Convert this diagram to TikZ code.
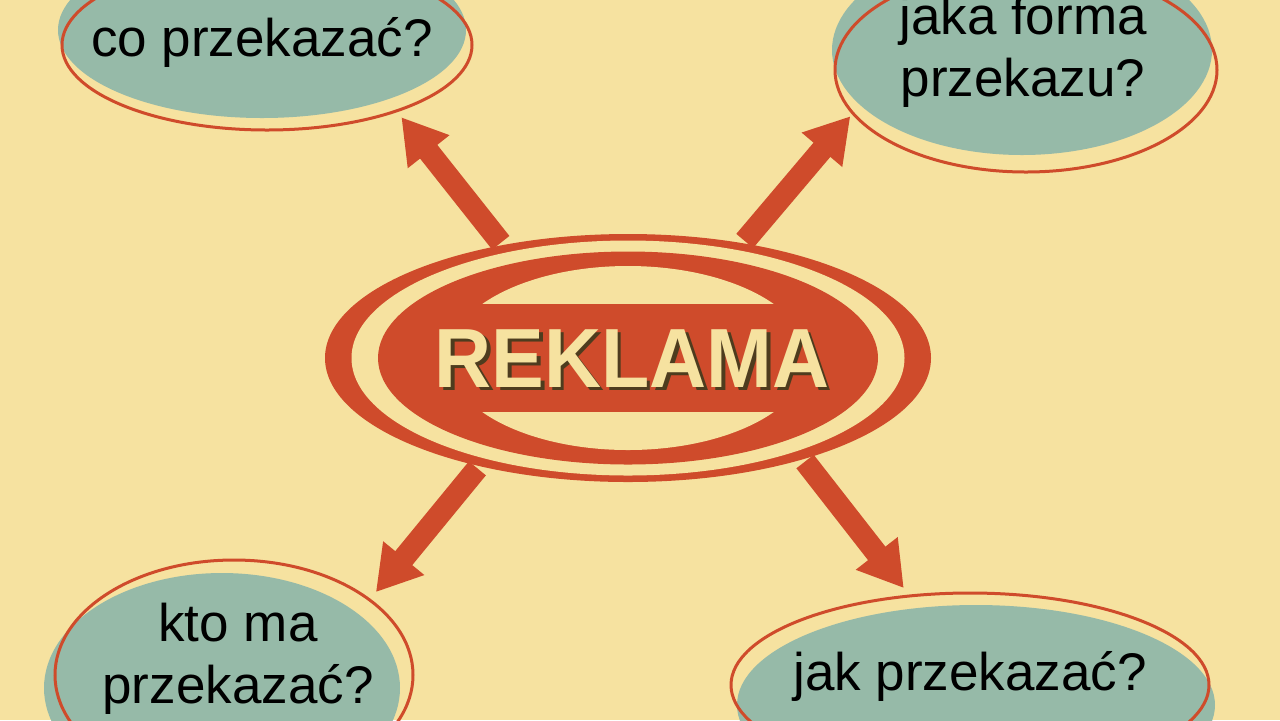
\documentclass[tikz,border=0pt]{standalone}
\usepackage{fontspec}
\setmainfont{Liberation Sans}
\newfontfamily\reklamafont[FakeStretch=0.94]{Liberation Sans}
\usetikzlibrary{shapes.geometric,arrows.meta}
\definecolor{tlo}{HTML}{F6E2A0}
\definecolor{czerwony}{HTML}{CF4B2B}
\definecolor{morski}{HTML}{96BAA8}
\definecolor{cien}{HTML}{4E3C1E}
\tikzset{
  owal/.style={ellipse,inner sep=0pt,outer sep=0pt},
  dymek/.style={owal,fill=morski},
  ramka/.style={owal,draw=czerwony,line width=1.5pt},
  pytanie/.style={font=\fontsize{26.5pt}{31pt}\selectfont,align=center,inner sep=0pt},
  haslo/.style={font=\reklamafont\bfseries\fontsize{42pt}{42pt}\selectfont,inner sep=0pt,anchor=base},
  strzalka/.style={czerwony,line width=11pt,-{Triangle[length=22pt,width=25pt]},shorten <=1.5pt}
}
\begin{document}
\begin{tikzpicture}[x=0.5pt,y=-0.5pt]
\useasboundingbox (0,0) rectangle (1280,720);
\fill[tlo] (0,0) rectangle (1280,720);
\node[owal,fill=czerwony,minimum width=303pt,minimum height=124pt] (reklama) at (628,358) {};
\fill[tlo] (628,358) ellipse [x radius=276.5, y radius=117.5];
\fill[czerwony] (628,358) ellipse [x radius=250, y radius=106.5];
\fill[tlo] (628,358) ellipse [x radius=180, y radius=92];
\fill[czerwony] (440,304) rectangle (816,412);
\node[haslo,cien] (reklama-cien) at (635.5,390.5) {REKLAMA};
\node[haslo,tlo] (reklama-napis) at (632,387) {REKLAMA};
\node[dymek,minimum width=204pt,minimum height=88pt] (co-tlo) at (262,30) {};
\node[ramka,minimum width=205pt,minimum height=85pt] (co) at (267,45) {};
\node[pytanie,anchor=base] (co-tekst) at (262,56) {co przekazać?};
\node[dymek,minimum width=190pt,minimum height=105pt] (forma-tlo) at (1022,50) {};
\node[ramka,minimum width=191pt,minimum height=102pt] (forma) at (1026,70) {};
\node[pytanie] (forma-tekst) at (1023,52) {jaka forma\\przekazu?};
\node[dymek,minimum width=178pt,minimum height=115pt] (kto-tlo) at (222,688) {};
\node[ramka,minimum width=179pt,minimum height=115pt] (kto) at (234,675) {};
\node[pytanie] (kto-tekst) at (238,659) {kto ma\\przekazać?};
\node[dymek,minimum width=239pt,minimum height=100pt] (jak-tlo) at (976,705) {};
\node[ramka,minimum width=239pt,minimum height=92pt] (jak) at (970,685) {};
\node[pytanie,anchor=base] (jak-tekst) at (970,690) {jak przekazać?};
\draw[strzalka,shorten >=4pt] (reklama.138) -- (co.-27);
\draw[strzalka,shorten >=2pt] (reklama.45) -- (forma.194);
\draw[strzalka,shorten >=5pt] (reklama.216) -- (kto.29);
\draw[strzalka,shorten >=5pt] (reklama.-30) -- (jak.124);
\end{tikzpicture}
\end{document}
